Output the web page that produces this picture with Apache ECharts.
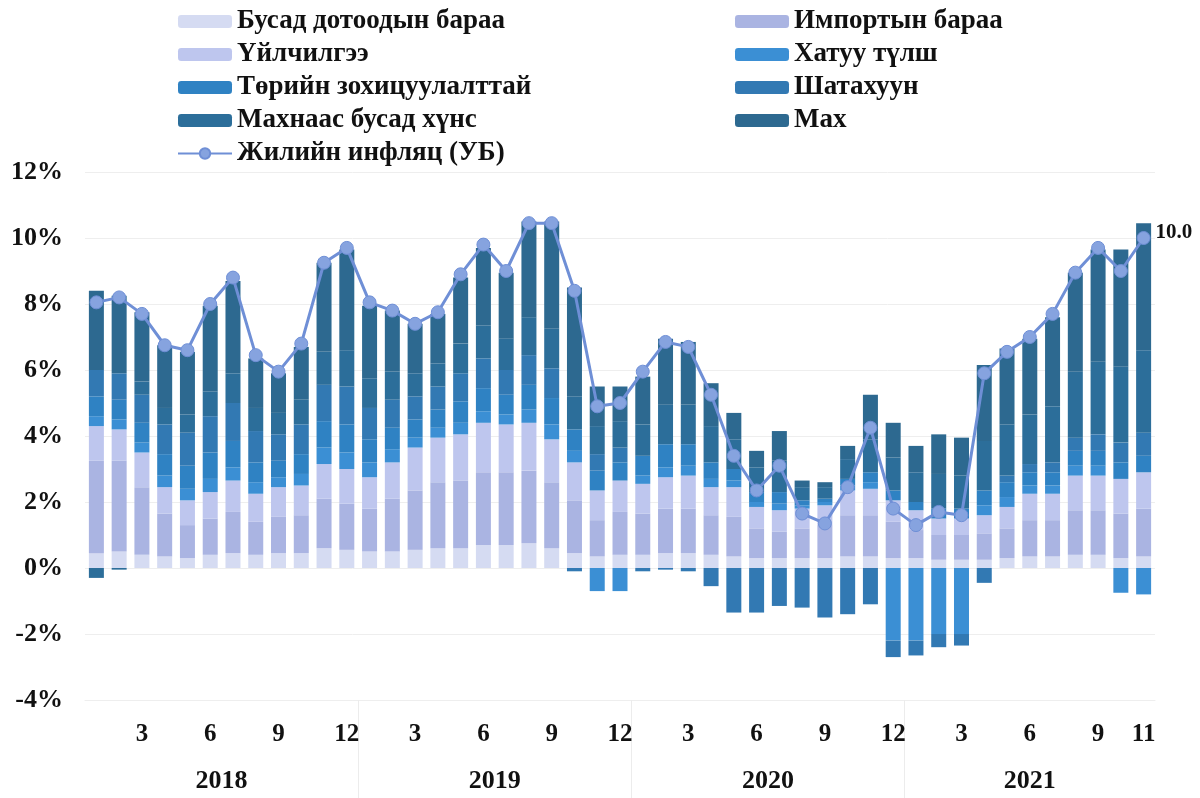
<!DOCTYPE html>
<html>
<head>
<meta charset="utf-8">
<script src="https://cdn.jsdelivr.net/npm/echarts@6/dist/echarts.min.js"></script>
<style>
  html, body { margin: 0; padding: 0; background: #fff; }
  #chart { width: 1200px; height: 798px; }
</style>
</head>
<body>
<div id="chart"></div>
<script>
// months Jan 2018 .. Nov 2021
const categories = [
  '2018-1','2018-2','2018-3','2018-4','2018-5','2018-6','2018-7','2018-8','2018-9','2018-10','2018-11','2018-12',
  '2019-1','2019-2','2019-3','2019-4','2019-5','2019-6','2019-7','2019-8','2019-9','2019-10','2019-11','2019-12',
  '2020-1','2020-2','2020-3','2020-4','2020-5','2020-6','2020-7','2020-8','2020-9','2020-10','2020-11','2020-12',
  '2021-1','2021-2','2021-3','2021-4','2021-5','2021-6','2021-7','2021-8','2021-9','2021-10','2021-11'
]
const shownMonths = ['3', '6', '9', '12']
const yearLabels = ['2018', '2019', '2020', '2021']
const yearCenters = [6.5, 18.5, 30.5, 42]
const yearBreaks = [12.5, 24.5, 36.5]

// contributions, percentage points
const otherDomestic = [0.45,0.5,0.4,0.35,0.3,0.4,0.45,0.4,0.45,0.45,0.6,0.55, 0.5,0.5,0.55,0.6,0.6,0.7,0.7,0.75,0.6,0.45,0.35,0.4, 0.4,0.45,0.45,0.4,0.35,0.3,0.3,0.3,0.3,0.35,0.35,0.3, 0.3,0.25,0.25,0.25,0.3,0.35,0.35,0.4,0.4,0.3,0.35]
const imported = [2.8,2.75,2.05,1.3,1.0,1.1,1.25,1.0,1.1,1.15,1.5,1.4, 1.3,1.6,1.8,2.0,2.05,2.2,2.2,2.2,2.0,1.6,1.1,1.3, 1.25,1.35,1.35,1.2,1.2,0.9,0.8,0.9,1.0,1.25,1.25,1.1, 0.85,0.75,0.75,0.8,0.9,1.1,1.1,1.35,1.35,1.35,1.45]
const services = [1.05,0.95,1.05,0.8,0.75,0.8,0.95,0.85,0.9,0.9,1.05,1.05, 0.95,1.1,1.3,1.35,1.4,1.5,1.45,1.45,1.3,1.15,0.9,0.95, 0.9,0.95,1.0,0.85,0.9,0.65,0.65,0.6,0.6,0.75,0.8,0.65, 0.6,0.5,0.5,0.55,0.65,0.8,0.8,1.05,1.05,1.05,1.1]
const coal = [0.3,0.3,0.3,0.35,0.35,0.4,0.4,0.35,0.3,0.35,0.5,0.5, 0.45,0.4,0.3,0.3,0.35,0.35,0.3,0.4,0.45,0.35,-0.7,-0.7, 0.25,0.3,0.3,0.25,0.2,0.15,0.2,0.1,0.1,0.15,0.2,-2.2, -2.2,-2.0,-2.0,0.3,0.3,0.25,0.25,0.3,0.3,-0.75,-0.8]
const regulated = [0.6,0.6,0.6,0.65,0.7,0.8,0.8,0.6,0.5,0.6,0.8,0.85, 0.7,0.65,0.55,0.55,0.65,0.7,0.6,0.75,0.8,0.65,0.6,0.55, 0.6,0.7,0.65,0.5,0.35,0.3,0.35,0.15,0.1,0.2,0.3,0.3, 0.25,0.3,0.3,0.45,0.45,0.4,0.4,0.45,0.45,0.5,0.5]
const fuel = [0.8,0.8,0.85,0.9,1.0,1.1,1.15,0.95,0.8,0.9,1.1,1.15, 0.95,0.85,0.7,0.7,0.85,0.9,0.75,0.9,0.9,-0.1,0.5,0.45, -0.1,-0.05,-0.1,-0.55,-1.35,-1.35,-1.15,-1.2,-1.5,-1.4,-1.1,-0.5, -0.45,-0.4,-0.35,-0.45,0.2,0.25,0.3,0.4,0.5,0.6,0.7]
const nonMeatFood = [-0.3,-0.05,0.4,0.5,0.55,0.75,0.9,0.7,0.65,0.75,1.0,1.1, 0.9,0.85,0.7,0.7,0.9,1.0,0.95,1.15,1.2,1.0,0.85,0.8, 0.95,1.2,1.2,1.1,0.9,0.75,0.95,0.4,0.35,0.6,1.0,1.0, 0.9,1.05,1.0,1.5,1.55,1.5,1.7,2.0,2.2,2.3,2.5]
const meat = [2.4,2.35,2.1,1.9,1.9,2.6,2.8,1.5,1.2,1.6,2.7,3.05, 2.2,1.85,1.5,1.5,2.0,2.35,2.0,2.9,3.25,3.3,1.2,1.05, 1.45,2.0,1.9,1.3,0.8,0.5,0.9,0.2,0.15,0.4,1.35,1.05, 0.8,1.2,1.15,2.3,2.3,2.3,2.7,3.0,3.4,3.55,3.85]
const inflationUB = [8.05,8.2,7.7,6.75,6.6,8.0,8.8,6.45,5.95,6.8,9.25,9.7, 8.05,7.8,7.4,7.75,8.9,9.8,9.0,10.45,10.45,8.4,4.9,5.0, 5.95,6.85,6.7,5.25,3.4,2.35,3.1,1.65,1.35,2.45,4.25,1.8, 1.3,1.7,1.6,5.9,6.55,7.0,7.7,8.95,9.7,9.0,10.0]

const serif = "'Liberation Serif', 'Times New Roman', serif"
const barSeries = [
  { name: 'Бусад дотоодын бараа', data: otherDomestic, color: '#d5dbf2' },
  { name: 'Импортын бараа', data: imported, color: '#aab4e2' },
  { name: 'Үйлчилгээ', data: services, color: '#bec6ee' },
  { name: 'Хатуу түлш', data: coal, color: '#3b8fd4' },
  { name: 'Төрийн зохицуулалттай', data: regulated, color: '#2f82c3' },
  { name: 'Шатахуун', data: fuel, color: '#3279b3' },
  { name: 'Махнаас бусад хүнс', data: nonMeatFood, color: '#2c6e9a' },
  { name: 'Мах', data: meat, color: '#2d6990' }
]

const chart = echarts.init(document.getElementById('chart'))
const legendText = { fontFamily: serif, fontWeight: 'bold', fontSize: 27, color: '#111' }

chart.setOption({
  animation: false,
  legend: [{
    orient: 'vertical',
    left: 172,
    top: 3,
    itemWidth: 54,
    itemHeight: 13,
    itemGap: 6,
    textStyle: legendText,
    data: ['Бусад дотоодын бараа', 'Үйлчилгээ', 'Төрийн зохицуулалттай', 'Махнаас бусад хүнс', 'Жилийн инфляц (УБ)']
  }, {
    orient: 'vertical',
    left: 730,
    top: 3,
    itemWidth: 54,
    itemHeight: 13,
    itemGap: 6,
    textStyle: legendText,
    data: ['Импортын бараа', 'Хатуу түлш', 'Шатахуун', 'Мах']
  }],
  grid: { left: 85, right: 45, top: 172, bottom: 98 },
  xAxis: [{
    type: 'category',
    data: categories,
    axisLine: { onZero: false, lineStyle: { color: '#eeeeee' } },
    axisTick: { show: false },
    axisLabel: {
      interval: 0,
      margin: 22,
      fontFamily: serif,
      fontWeight: 'bold',
      fontSize: 25,
      color: '#111',
      formatter: (v, i) => {
        const m = v.split('-')[1]
        return (shownMonths.includes(m) || i === categories.length - 1) ? m : ''
      }
    }
  }, {
    type: 'value',
    position: 'bottom',
    min: 0.5,
    max: categories.length + 0.5,
    axisLine: { show: false, onZero: false },
    splitLine: { show: false },
    axisTick: {
      show: true,
      inside: false,
      length: 98,
      customValues: yearBreaks,
      lineStyle: { color: '#ececec' }
    },
    axisLabel: {
      margin: 68,
      customValues: yearCenters,
      fontFamily: serif,
      fontWeight: 'bold',
      fontSize: 26,
      color: '#111',
      formatter: v => yearLabels[yearCenters.indexOf(v)]
    }
  }],
  yAxis: {
    type: 'value',
    min: -4,
    max: 12,
    interval: 2,
    axisLine: { show: false },
    axisTick: { show: false },
    splitLine: { lineStyle: { color: '#eeeeee' } },
    axisLabel: {
      margin: 22,
      fontFamily: serif,
      fontWeight: 'bold',
      fontSize: 26,
      color: '#111',
      formatter: '{value}%'
    }
  },
  series: barSeries.map(s => ({
    name: s.name,
    type: 'bar',
    stack: 'total',
    barWidth: 15,
    data: s.data,
    itemStyle: { color: s.color }
  })).concat([{
    name: 'Жилийн инфляц (УБ)',
    type: 'line',
    data: inflationUB,
    z: 5,
    symbol: 'circle',
    symbolSize: 13,
    lineStyle: { width: 3, color: '#6f8fd6' },
    itemStyle: { color: '#86a3df', borderColor: '#6f8fd6', borderWidth: 1 },
    label: {
      show: true,
      position: 'right',
      offset: [0, -5],
      fontFamily: serif,
      fontWeight: 'bold',
      fontSize: 21,
      color: '#111',
      formatter: p => p.dataIndex === inflationUB.length - 1 ? p.value.toFixed(1) : ''
    }
  }])
})
</script>
</body>
</html>
